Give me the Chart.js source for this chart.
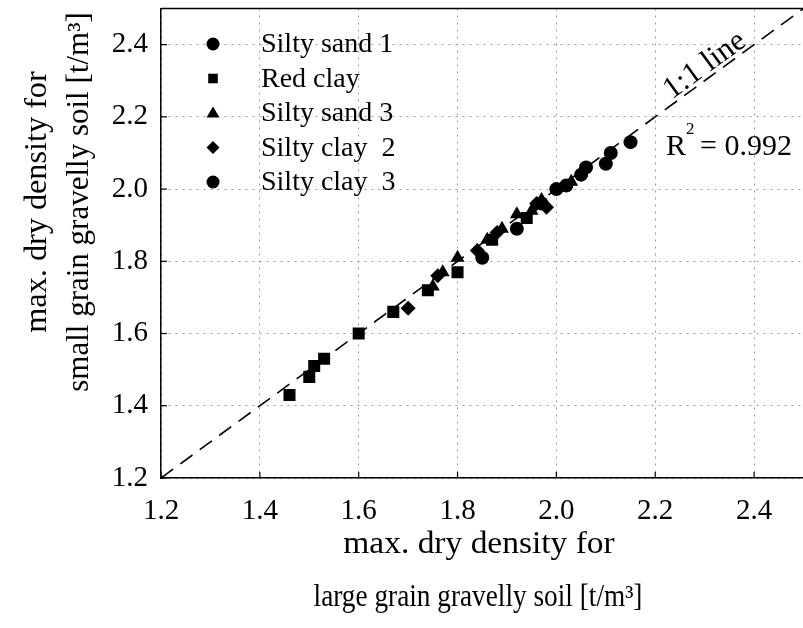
<html>
<head>
<style>
  body { margin: 0; overflow: hidden; background: #fff; }
  #wrap { width: 803px; height: 628px; overflow: hidden; }
</style>
</head>
<body>
<script src="https://cdn.jsdelivr.net/npm/chart.js@4.4.0/dist/chart.umd.min.js"></script>
<div id="wrap"><canvas id="myChart" width="812" height="628"></canvas></div>
<script>
// values
const siltySand1X = [1.85, 1.92, 2.00, 2.02, 2.06, 2.10];
const siltySand1Y = [1.81, 1.89, 2.00, 2.01, 2.06, 2.07];
const redClayX = [1.46, 1.50, 1.51, 1.53, 1.60, 1.67, 1.74, 1.80, 1.87, 1.94];
const redClayY = [1.43, 1.48, 1.51, 1.53, 1.60, 1.66, 1.72, 1.77, 1.86, 1.92];
const siltySand3X = [1.75, 1.77, 1.80, 1.86, 1.89, 1.92, 1.95, 1.97, 2.03];
const siltySand3Y = [1.73, 1.77, 1.81, 1.86, 1.89, 1.93, 1.94, 1.97, 2.02];
const siltyClay2X = [1.70, 1.76, 1.84, 1.88, 1.96, 1.98];
const siltyClay2Y = [1.67, 1.76, 1.83, 1.88, 1.96, 1.95];
const siltyClay3X = [1.97, 2.05, 2.11, 2.15];
const siltyClay3Y = [1.96, 2.04, 2.10, 2.13];
const oneToOneLine = [1.2, 2.5];
const tickValues = [1.2, 1.4, 1.6, 1.8, 2.0, 2.2, 2.4];
const xTitle = ['max. dry density for', 'large grain gravelly soil [t/m\u00B3]'];
const yTitle = ['max. dry density for', 'small grain gravelly soil [t/m\u00B3]'];
const r2Text = '0.992';

const serif = '"Liberation Serif", "Times New Roman", serif';
const markerSize = { circle: 7, rect: 8.5, triangle: 8, rectRot: 7.5 };

function pts(xs, ys) { return xs.map((v, i) => ({x: v, y: ys[i]})); }
function series(label, xs, ys, style) {
    return {
        label: label, data: pts(xs, ys), pointStyle: style,
        pointRadius: markerSize[style], pointHoverRadius: markerSize[style],
        backgroundColor: '#000', borderColor: '#000', borderWidth: 0
    };
}

function drawMarker(ctx, style, x, y, r) {
    ctx.beginPath();
    if (style == 'circle') ctx.arc(x, y, r, 0, Math.PI * 2);
    else if (style == 'rect') ctx.rect(x - r * 0.8, y - r * 0.8, r * 1.6, r * 1.6);
    else if (style == 'triangle') { ctx.moveTo(x, y - r); ctx.lineTo(x + r, y + r * 0.7); ctx.lineTo(x - r, y + r * 0.7); ctx.closePath(); }
    else if (style == 'rectRot') { ctx.moveTo(x, y - r); ctx.lineTo(x + r, y); ctx.lineTo(x, y + r); ctx.lineTo(x - r, y); ctx.closePath(); }
    ctx.fill();
}

// text squeezed or stretched along its own direction to match the scan
function wideText(ctx, s, x, y, sx) {
    ctx.save();
    ctx.translate(x, y);
    ctx.scale(sx, 1);
    ctx.fillText(s, 0, 0);
    ctx.restore();
}

// keep the plot box fixed: no extra room for edge labels
function fixY(s) { s.width = 161; s.paddingTop = 0; s.paddingBottom = 0; }
function fixX(s) { s.height = 150; s.paddingLeft = 0; s.paddingRight = 0; }

const overlay = {
    id: 'overlay',
    afterDraw(chart) {
        const ctx = chart.ctx, a = chart.chartArea, xs = chart.scales.x, ys = chart.scales.y;
        ctx.save();
        ctx.strokeStyle = '#000';
        ctx.fillStyle = '#000';
        ctx.lineWidth = 1.5;
        // top frame line
        ctx.beginPath(); ctx.moveTo(a.left, a.top); ctx.lineTo(a.right, a.top); ctx.stroke();
        // small inward ticks
        ctx.lineWidth = 1.2;
        tickValues.forEach(v => {
            const px = xs.getPixelForValue(v), py = ys.getPixelForValue(v);
            ctx.beginPath(); ctx.moveTo(px, a.bottom); ctx.lineTo(px, a.bottom - 6); ctx.stroke();
            ctx.beginPath(); ctx.moveTo(a.left, py); ctx.lineTo(a.left + 6, py); ctx.stroke();
        });

        // axis titles
        ctx.font = '31px ' + serif;
        ctx.textAlign = 'center';
        ctx.textBaseline = 'middle';
        wideText(ctx, xTitle[0], 479, 545, 1.08);
        wideText(ctx, xTitle[1], 478, 598, 0.88);
        ctx.save();
        ctx.translate(38, 202);
        ctx.rotate(-Math.PI / 2);
        wideText(ctx, yTitle[0], 0, 0, 1.04);
        wideText(ctx, yTitle[1], 0, 42, 1.0);
        ctx.restore();

        // legend inside plot
        ctx.font = '28px ' + serif;
        ctx.textAlign = 'left';
        chart.data.datasets.slice(0, 5).forEach((ds, i) => {
            const ly = 44 + i * 34.5;
            drawMarker(ctx, ds.pointStyle, 213, ly, ds.pointStyle == 'rect' ? 6 : 6.5);
            ctx.fillText(ds.label, 261, ly + 1);
        });

        // 1:1 line label along the dashed line
        const p1x = xs.getPixelForValue(1.2), p1y = ys.getPixelForValue(1.2);
        const p2x = xs.getPixelForValue(2.4), p2y = ys.getPixelForValue(2.4);
        const ang = Math.atan2(p2y - p1y, p2x - p1x);
        ctx.save();
        ctx.translate(xs.getPixelForValue(2.235), ys.getPixelForValue(2.235));
        ctx.rotate(ang);
        ctx.textBaseline = 'alphabetic';
        ctx.font = '31px ' + serif;
        ctx.fillText('1:1 line', 2, -4);
        ctx.restore();

        // R^2 text
        const rx = xs.getPixelForValue(2.222), ry = ys.getPixelForValue(2.125);
        ctx.textBaseline = 'alphabetic';
        ctx.font = '30px ' + serif;
        ctx.fillText('R', rx, ry + 11);
        ctx.font = '17px ' + serif;
        ctx.fillText('2', rx + 20, ry - 10);
        ctx.font = '30px ' + serif;
        ctx.fillText('= ' + r2Text, rx + 34, ry + 11);
        ctx.restore();
    }
};

const ctx = document.getElementById('myChart').getContext('2d');
const myChart = new Chart(ctx, {
    type: 'scatter',
    data: {
        datasets: [
            series('Silty sand 1', siltySand1X, siltySand1Y, 'circle'),
            series('Red clay', redClayX, redClayY, 'rect'),
            series('Silty sand 3', siltySand3X, siltySand3Y, 'triangle'),
            series('Silty clay  2', siltyClay2X, siltyClay2Y, 'rectRot'),
            series('Silty clay  3', siltyClay3X, siltyClay3Y, 'circle'),
            {
                type: 'line', label: '1:1 line', data: pts(oneToOneLine, oneToOneLine),
                showLine: true, pointRadius: 0, borderColor: '#000', borderWidth: 1.6,
                borderDash: [15, 9], fill: false
            }
        ]
    },
    options: {
        responsive: false,
        animation: false,
        layout: { padding: { top: 8, left: 0, right: 1, bottom: 0 } },
        plugins: { legend: { display: false }, tooltip: { enabled: false } },
        scales: {
            x: {
                type: 'linear', min: 1.2, max: 2.5,
                afterBuildTicks: s => { s.ticks = tickValues.map(v => ({value: v})); },
                afterFit: fixX,
                ticks: { color: '#000', font: { family: serif, size: 29 }, padding: 16,
                         maxRotation: 0, callback: v => v.toFixed(1) },
                grid: { color: '#9a9a9a', lineWidth: 1, drawTicks: false },
                border: { display: true, color: '#000', width: 1.5, dash: [2, 5] }
            },
            y: {
                type: 'linear', min: 1.2, max: 2.5,
                afterBuildTicks: s => { s.ticks = tickValues.map(v => ({value: v})); },
                afterFit: fixY,
                ticks: { color: '#000', font: { family: serif, size: 29 }, padding: 13,
                         callback: v => v.toFixed(1) },
                grid: { color: '#9a9a9a', lineWidth: 1, drawTicks: false },
                border: { display: true, color: '#000', width: 1.5, dash: [2, 5] }
            }
        }
    },
    plugins: [overlay]
});
</script>
</body>
</html>
